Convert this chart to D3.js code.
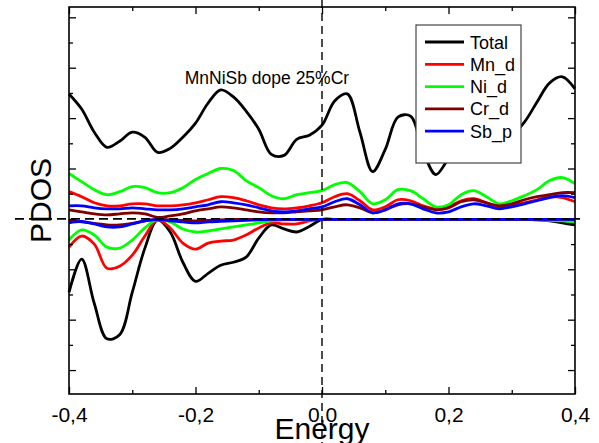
<!DOCTYPE html>
<html>
<head>
<meta charset="utf-8">
<script src="https://cdn.jsdelivr.net/npm/d3@7"></script>
<style>
  body { margin: 0; background: #fff; }
  svg { display: block; font-family: "Liberation Sans", Arial, sans-serif; }
</style>
</head>
<body>
<div id="chart"></div>
<script>
// energy grid (eV), shared by every series
const energy = [-0.40,-0.38,-0.36,-0.34,-0.32,-0.30,-0.28,-0.26,-0.24,-0.22,-0.20,-0.18,-0.16,-0.14,-0.12,-0.10,-0.08,-0.06,-0.04,-0.02,
  0.00,0.02,0.04,0.06,0.08,0.10,0.12,0.14,0.16,0.18,0.20,0.22,0.24,0.26,0.28,0.30,0.32,0.34,0.36,0.38,0.40];

// spin up / spin down PDOS
const totalUp = [4.96,4.36,3.44,2.84,3.08,3.44,3.24,2.64,2.80,3.24,3.80,4.60,5.12,4.84,4.28,3.56,2.56,2.52,3.16,3.32,
  3.72,4.68,4.96,3.44,1.88,2.76,4.04,4.08,2.68,1.76,2.36,2.68,2.92,3.04,3.16,3.32,3.84,4.64,5.40,5.64,5.16];
const totalDown = [-2.92,-1.60,-3.36,-4.76,-4.60,-2.92,-1.16,-0.04,-0.52,-1.72,-2.48,-2.16,-1.84,-1.72,-1.52,-0.76,-0.24,-0.40,-0.52,-0.30,
  -0.02,-0.02,-0.02,-0.02,-0.02,-0.02,-0.02,-0.02,-0.02,-0.02,-0.02,-0.02,-0.02,-0.02,-0.02,-0.02,-0.02,-0.04,-0.08,-0.16,-0.24];
const mnUp = [1.08,0.88,0.64,0.52,0.52,0.60,0.60,0.52,0.52,0.56,0.64,0.76,0.88,0.84,0.72,0.56,0.44,0.40,0.44,0.52,
  0.64,0.88,1.00,0.72,0.36,0.48,0.76,0.72,0.52,0.40,0.48,0.72,0.80,0.64,0.44,0.52,0.64,0.76,0.88,0.84,0.68];
const mnDown = [-1.12,-0.68,-1.00,-1.96,-1.88,-1.44,-0.68,-0.04,-0.36,-0.96,-1.20,-0.96,-0.88,-0.84,-0.64,-0.36,-0.16,-0.20,-0.20,-0.08,
  -0.02,-0.02,-0.02,-0.02,-0.02,-0.02,-0.02,-0.02,-0.02,-0.02,-0.02,-0.02,-0.02,-0.02,-0.02,-0.02,-0.02,-0.02,-0.02,-0.02,-0.02];
const niUp = [1.80,1.48,1.16,0.96,1.08,1.28,1.24,1.04,1.04,1.24,1.56,1.80,2.00,1.92,1.52,1.24,0.92,0.80,0.96,1.04,
  1.12,1.36,1.44,1.08,0.60,0.76,1.16,1.12,0.80,0.48,0.56,0.96,1.12,0.88,0.60,0.72,0.92,1.16,1.52,1.64,1.40];
const niDown = [-0.84,-0.44,-0.64,-1.12,-1.16,-0.84,-0.36,-0.02,-0.12,-0.40,-0.52,-0.48,-0.40,-0.32,-0.24,-0.16,-0.08,-0.04,-0.04,-0.04,
  -0.02,-0.02,-0.02,-0.02,-0.02,-0.02,-0.02,-0.02,-0.02,-0.02,-0.02,-0.02,-0.02,-0.02,-0.02,-0.02,-0.02,-0.04,-0.06,-0.08,-0.12];
const crUp = [0.36,0.28,0.20,0.16,0.20,0.24,0.20,0.06,0.12,0.20,0.32,0.40,0.48,0.44,0.36,0.28,0.24,0.24,0.28,0.32,
  0.36,0.48,0.56,0.44,0.24,0.36,0.56,0.60,0.48,0.36,0.44,0.68,0.76,0.64,0.52,0.60,0.76,0.88,0.96,1.04,1.04];
const crDown = [-0.08,-0.12,-0.18,-0.24,-0.24,-0.18,-0.08,-0.02,-0.04,-0.06,-0.08,-0.06,-0.04,-0.02,-0.02,-0.02,-0.02,-0.02,-0.02,-0.02,
  -0.02,-0.02,-0.02,-0.02,-0.02,-0.02,-0.02,-0.02,-0.02,-0.02,-0.02,-0.02,-0.02,-0.02,-0.02,-0.02,-0.02,-0.02,-0.02,-0.02,-0.02];
const sbUp = [0.52,0.52,0.44,0.40,0.40,0.44,0.40,0.36,0.36,0.40,0.48,0.56,0.68,0.64,0.56,0.44,0.32,0.28,0.32,0.40,
  0.48,0.68,0.80,0.56,0.24,0.36,0.60,0.60,0.40,0.24,0.28,0.48,0.60,0.52,0.40,0.48,0.60,0.72,0.84,0.92,0.84];
const sbDown = [-0.16,-0.10,-0.20,-0.32,-0.32,-0.20,-0.08,-0.02,-0.08,-0.12,-0.16,-0.12,-0.10,-0.08,-0.06,-0.04,-0.02,-0.02,-0.02,-0.02,
  -0.02,-0.02,-0.02,-0.02,-0.02,-0.02,-0.02,-0.02,-0.02,-0.02,-0.02,-0.02,-0.02,-0.02,-0.02,-0.02,-0.02,-0.02,-0.02,-0.02,-0.02];

const seriesNames = ["Total", "Mn_d", "Ni_d", "Cr_d", "Sb_p"];
const xMajorTicks = [-0.4, -0.2, 0.0, 0.2, 0.4];
const xMinorTicks = [-0.3, -0.1, 0.1, 0.3];
const yMajorTicks = [-6, -4, -2, 0, 2, 4, 6, 8];
const yMinorTicks = [-5, -3, -1, 1, 3, 5, 7];
const note = { text: "MnNiSb dope 25%Cr", e: -0.217, v: 5.36 };

const series = [
  { name: seriesNames[0], up: totalUp, down: totalDown },
  { name: seriesNames[1], up: mnUp, down: mnDown },
  { name: seriesNames[2], up: niUp, down: niDown },
  { name: seriesNames[3], up: crUp, down: crDown },
  { name: seriesNames[4], up: sbUp, down: sbDown }
];

const colors = { "Total": "#000000", "Mn_d": "#ff0000", "Ni_d": "#00ff00", "Cr_d": "#800000", "Sb_p": "#0000ff" };

const width = 599, height = 443;
const margins = { top: 7, right: 24, bottom: 49, left: 69 };

const svg = d3.select("#chart").append("svg")
  .attr("width", width)
  .attr("height", height);

const x = d3.scaleLinear()
  .domain([-0.4, 0.4])
  .range([margins.left, width - margins.right]);

const y = d3.scaleLinear()
  .domain([-6.95, 8.41])
  .range([height - margins.bottom, margins.top]);

const fmt = d3.formatLocale({ decimal: ",", thousands: ".", grouping: [3], currency: ["", ""], minus: "-" }).format(".1f");

const line = (vals) => d3.line()
  .x((d, i) => x(energy[i]))
  .y(d => y(d))
  .curve(d3.curveCatmullRom.alpha(0.5))(vals);

// curves
const curves = svg.append("g");
series.forEach(s => {
  [s.up, s.down].forEach(vals => {
    curves.append("path")
      .attr("d", line(vals))
      .attr("fill", "none")
      .attr("stroke", colors[s.name])
      .attr("stroke-width", 2.8)
      .attr("stroke-linejoin", "round");
  });
});

// axes: ticks point inward, no y labels
const bottomY = y.range()[0], topY = y.range()[1];
const leftX = x.range()[0], rightX = x.range()[1];

function styleAxis(g) {
  g.select(".domain").remove();
  g.selectAll(".tick line").attr("stroke", "#000").attr("stroke-width", 1.3);
}

svg.append("g").attr("transform", `translate(0,${bottomY})`)
  .call(d3.axisBottom(x).tickValues(xMajorTicks).tickSize(-7).tickPadding(13).tickFormat(fmt))
  .call(styleAxis)
  .call(g => g.selectAll("text").attr("font-size", 21).attr("font-family", "Liberation Sans, Arial, sans-serif").attr("fill", "#000"));
svg.append("g").attr("transform", `translate(0,${bottomY})`)
  .call(d3.axisBottom(x).tickValues(xMinorTicks).tickSize(-4).tickFormat(""))
  .call(styleAxis);
svg.append("g").attr("transform", `translate(0,${topY})`)
  .call(d3.axisTop(x).tickValues(xMajorTicks).tickSize(-7).tickFormat(""))
  .call(styleAxis);
svg.append("g").attr("transform", `translate(0,${topY})`)
  .call(d3.axisTop(x).tickValues(xMinorTicks).tickSize(-4).tickFormat(""))
  .call(styleAxis);
svg.append("g").attr("transform", `translate(${leftX},0)`)
  .call(d3.axisLeft(y).tickValues(yMajorTicks).tickSize(-7).tickFormat(""))
  .call(styleAxis);
svg.append("g").attr("transform", `translate(${leftX},0)`)
  .call(d3.axisLeft(y).tickValues(yMinorTicks).tickSize(-4).tickFormat(""))
  .call(styleAxis);
svg.append("g").attr("transform", `translate(${rightX},0)`)
  .call(d3.axisRight(y).tickValues(yMajorTicks).tickSize(-7).tickFormat(""))
  .call(styleAxis);
svg.append("g").attr("transform", `translate(${rightX},0)`)
  .call(d3.axisRight(y).tickValues(yMinorTicks).tickSize(-4).tickFormat(""))
  .call(styleAxis);

// frame
svg.append("rect")
  .attr("x", leftX).attr("y", topY)
  .attr("width", rightX - leftX).attr("height", bottomY - topY)
  .attr("fill", "none").attr("stroke", "#000").attr("stroke-width", 1.6);

// Fermi level / zero reference lines
svg.append("line")
  .attr("x1", 15).attr("x2", rightX + 5)
  .attr("y1", y(0)).attr("y2", y(0))
  .attr("stroke", "#000").attr("stroke-width", 1.8).attr("stroke-dasharray", "9,5");
svg.append("line")
  .attr("x1", x(0)).attr("x2", x(0))
  .attr("y1", 0).attr("y2", height)
  .attr("stroke", "#000").attr("stroke-width", 1.4).attr("stroke-dasharray", "8,5");

// annotation
svg.append("text")
  .attr("x", x(note.e)).attr("y", y(note.v))
  .attr("font-size", 17.5)
  .text(note.text);

// axis titles
svg.append("text")
  .attr("x", x(0)).attr("y", 439)
  .attr("text-anchor", "middle")
  .attr("font-size", 30)
  .text("Energy");
svg.append("text")
  .attr("transform", `translate(51,${(topY + bottomY) / 2}) rotate(-90)`)
  .attr("text-anchor", "middle")
  .attr("font-size", 30)
  .text("PDOS");

// legend
const legend = svg.append("g").attr("transform", "translate(416,25)");
legend.append("rect")
  .attr("width", 105).attr("height", 138)
  .attr("fill", "#fff").attr("stroke", "#444").attr("stroke-width", 1.2);
const item = legend.selectAll("g.item")
  .data(seriesNames)
  .join("g")
  .attr("class", "item")
  .attr("transform", (d, i) => `translate(0,${17 + i * 22.3})`);
item.append("line")
  .attr("x1", 9).attr("x2", 48)
  .attr("stroke", d => colors[d]).attr("stroke-width", 2.8);
item.append("text")
  .attr("x", 54).attr("y", 6.5)
  .attr("font-size", 18)
  .text(d => d);
</script>
</body>
</html>
